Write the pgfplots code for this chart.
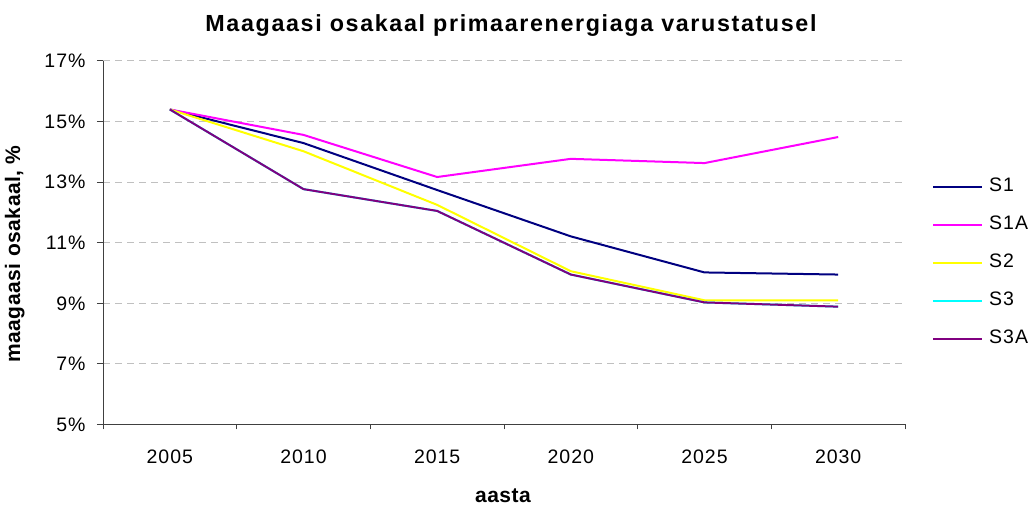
\documentclass[border=0pt]{standalone}
\usepackage{pgfplots}
\pgfplotsset{compat=1.18}
\usepackage{fontspec}
\setmainfont{Liberation Sans}
\newfontfamily\tsans[LetterSpace=5]{Liberation Sans}
\newfontfamily\lsans[LetterSpace=2.5]{Liberation Sans}
\newfontfamily\hsans[LetterSpace=7]{Liberation Sans}
\newcommand\tickfont{\tsans\fontsize{19.5}{22}\selectfont}
\newcommand\labfont{\lsans\bfseries\fontsize{21}{24}\selectfont}
\newcommand\titfont{\hsans\bfseries\fontsize{23.3}{27}\selectfont}
\definecolor{cS1}{HTML}{000080}
\definecolor{cS1A}{HTML}{FF00FF}
\definecolor{cS2}{HTML}{FFFF00}
\definecolor{cS3}{HTML}{00FFFF}
\definecolor{cS3A}{HTML}{800080}
\definecolor{gridc}{HTML}{C0C0C0}
\definecolor{axc}{HTML}{404040}
\begin{document}
\begin{tikzpicture}
\path[use as bounding box] (0,0) rectangle (1029pt,506pt);
\begin{axis}[
  at={(103pt,81.5pt)}, anchor=south west,
  scale only axis, width=802pt, height=363.5pt,
  xmin=-0.5, xmax=5.5, ymin=5, ymax=17,
  axis x line*=bottom, axis y line*=left,
  xtick={0,...,5}, xticklabels={2005,2010,2015,2020,2025,2030},
  minor xtick={-0.5,0.5,...,5.5},
  ytick={5,7,...,17}, yticklabels={5\%,7\%,9\%,11\%,13\%,15\%,17\%},
  tick align=outside,
  major tick length=6pt, minor tick length=5pt,
  every major x tick/.append style={draw=none},
  ymajorgrids,
  major grid style={gridc, line width=1pt, dash pattern=on 7pt off 5pt},
  axis line style={axc, line width=1pt},
  tick style={axc, line width=1pt},
  ticklabel style={font=\tickfont},
  xticklabel style={yshift=-16pt},
  yticklabel style={xshift=-8pt},
  every axis plot/.append style={line width=2pt},
  legend style={draw=none, fill=none, at={(1.0337,0.445)}, anchor=west,
    font=\tickfont, inner sep=0pt, row sep=19pt, column sep=6pt,
    nodes={inner sep=0pt, text height=14pt, text depth=5pt}},
  legend cell align=left,
  legend image code/.code={\draw[#1] (0pt,0pt) -- (49pt,0pt);},
]
\addplot[cS1] coordinates {(0,15.4)(1,14.29)(2,12.74)(3,11.21)(4,10.02)(5,9.95)};
\addlegendentry{S1}
\addplot[cS1A] coordinates {(0,15.4)(1,14.56)(2,13.17)(3,13.77)(4,13.63)(5,14.49)};
\addlegendentry{S1A}
\addplot[cS2] coordinates {(0,15.4)(1,14.02)(2,12.25)(3,10.06)(4,9.1)(5,9.1)};
\addlegendentry{S2}
\addplot[cS3] coordinates {(0,15.4)(1,12.77)(2,12.05)(3,9.95)(4,9.03)(5,8.89)};
\addlegendentry{S3}
\addplot[cS3A] coordinates {(0,15.4)(1,12.77)(2,12.05)(3,9.95)(4,9.03)(5,8.89)};
\addlegendentry{S3A}
\end{axis}
\node[font=\titfont, anchor=base] at (511pt,474.3pt) {Maagaasi osakaal primaarenergiaga varustatusel};
\node[font=\labfont, anchor=base] at (503pt,3.5pt) {aasta};
\node[font=\labfont, anchor=base, rotate=90] at (20pt,252pt) {maagaasi osakaal, \%};
\end{tikzpicture}
\end{document}
